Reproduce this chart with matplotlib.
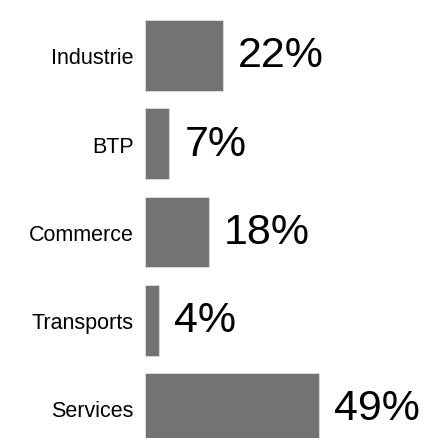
import numpy as np
from matplotlib import pyplot as plt

plt.rcParams['font.family'] = ['Liberation Sans', 'DejaVu Sans']

secteurs = ['Industrie', 'BTP', 'Commerce', 'Transports', 'Services']
parts = [22, 7, 18, 4, 49]

W, H = 423, 439
fig = plt.figure(figsize=(W/100, H/100), dpi=100)
x0 = 144.5
ax = fig.add_axes([x0/W, 0, (W-x0)/W, 1])

pas = 88.25
y = np.arange(len(secteurs))
ax.barh(y, parts, height=0.8, color='#737373', edgecolor='#e0e0e0', linewidth=0.6)

# echelle : ~3.56 px par point de pourcentage
ax.set_xlim(0, (W-x0)/3.56)
ax.set_ylim((H-56.5)/pas, -56.5/pas)

for yi, v in zip(y, parts):
    ax.annotate('%d%%' % v, (v, yi), xytext=(11, 0), textcoords='offset points',
                va='center', ha='left', fontsize=31)

ax.set_yticks(y)
ax.set_yticklabels(secteurs, fontsize=15.5)
ax.tick_params(axis='y', length=0, pad=8)
ax.set_xticks([])
for s in ax.spines.values():
    s.set_visible(False)
ax.patch.set_alpha(0)

fig.savefig('out.png', dpi=100)
